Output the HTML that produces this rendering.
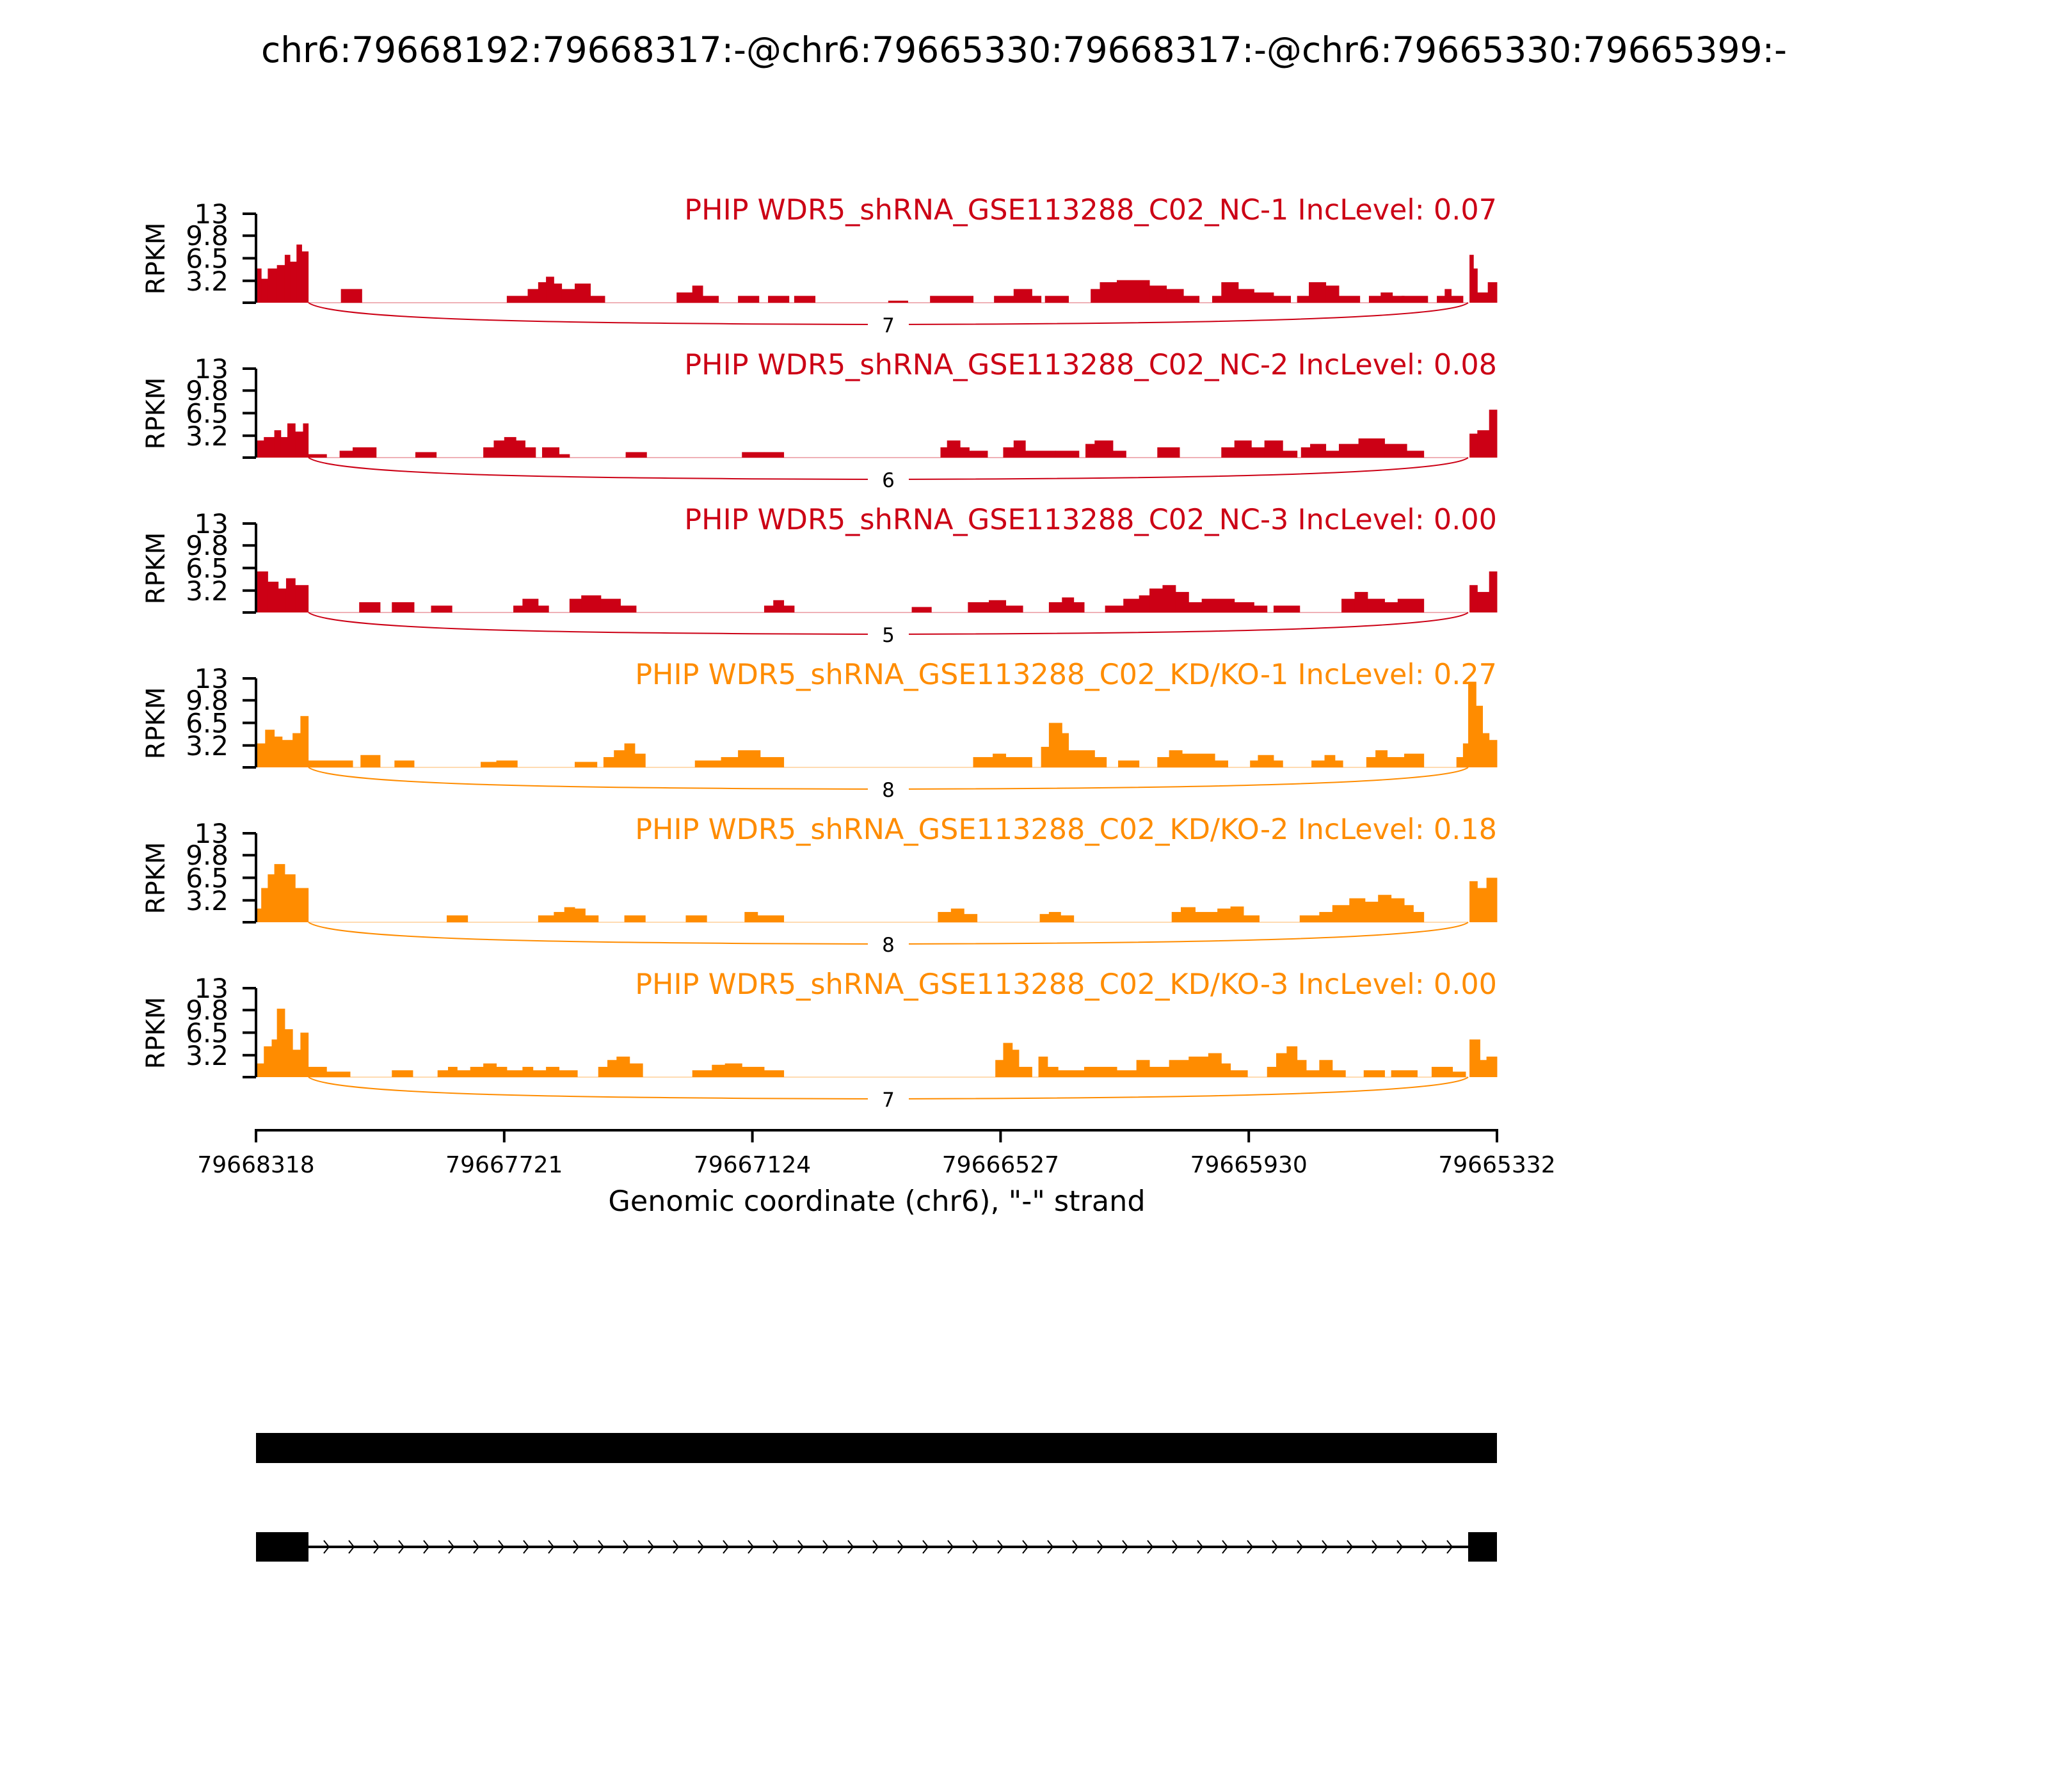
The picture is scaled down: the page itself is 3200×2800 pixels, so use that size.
<!DOCTYPE html>
<html><head><meta charset="utf-8"><style>
html,body{margin:0;padding:0;background:#fff;}
svg{display:block;font-family:"DejaVu Sans","Liberation Sans",sans-serif;}
</style></head><body>
<svg id="s" width="3200" height="2800" xmlns="http://www.w3.org/2000/svg">
<text x="1600" y="97" font-size="55" text-anchor="middle">chr6:79668192:79668317:-@chr6:79665330:79668317:-@chr6:79665330:79665399:-</text>
</svg>
<script>
const S=document.getElementById('s');const NS='http://www.w3.org/2000/svg';
function el(t,a,txt){const e=document.createElementNS(NS,t);for(const k in a)e.setAttribute(k,a[k]);if(txt!==undefined)e.textContent=txt;S.appendChild(e);return e;}
const X=d=>400+(d-196)*2.041;
const R='#CC0015',O='#FF8C00';
const panels=[
{c:R,lab:'PHIP WDR5_shRNA_GSE113288_C02_NC-1 IncLevel: 0.07',j:'7',d:[[197,200,5],[200,205,3.5],[205,212,5],[212,218,5.5],[218,222,7],[222,227,6],[227,231,8.5],[231,236,7.5],[261,277,2],[388,404,1],[404,412,2],[412,418,3],[418,424,3.8],[424,430,2.8],[430,440,2],[440,452,2.8],[452,463,1],[518,530,1.5],[530,538,2.5],[538,550,1],[565,581,1],[588,604,1],[608,624,1],[680,695,0.3],[712,745,1],[761,776,1],[776,790,2],[790,797,1],[800,818,1],[835,842,2],[842,855,3],[855,880,3.3],[880,893,2.5],[893,906,2],[906,918,1],[928,935,1],[935,948,3],[948,960,2],[960,975,1.5],[975,988,1],[993,1002,1],[1002,1015,3],[1015,1025,2.5],[1025,1041,1],[1048,1057,1],[1057,1066,1.5],[1066,1075,1],[1073,1093,1],[1100,1106,1],[1106,1111,2],[1111,1120,1],[1125,1128,7],[1128,1131,5],[1131,1139,1.5],[1139,1146,3]]},
{c:R,lab:'PHIP WDR5_shRNA_GSE113288_C02_NC-2 IncLevel: 0.08',j:'6',d:[[197,202,2.5],[202,210,3],[210,215,4],[215,220,3],[220,226,5],[226,232,3.8],[232,236,5],[236,250,0.5],[260,270,1],[270,288,1.5],[318,334,0.8],[370,378,1.5],[378,386,2.5],[386,395,3],[395,402,2.5],[402,410,1.5],[415,428,1.5],[428,436,0.5],[479,495,0.8],[568,585,0.8],[585,600,0.8],[720,725,1.5],[725,735,2.5],[735,742,1.5],[742,756,1],[768,776,1.5],[776,785,2.5],[785,808,1],[808,826,1],[831,838,2],[838,852,2.5],[852,862,1],[886,903,1.5],[935,945,1.5],[945,958,2.5],[958,968,1.5],[968,982,2.5],[982,993,1],[996,1003,1.5],[1003,1015,2],[1015,1025,1],[1025,1040,2],[1040,1060,2.8],[1060,1077,2],[1077,1090,1],[1125,1131,3.5],[1131,1140,4],[1140,1146,7]]},
{c:R,lab:'PHIP WDR5_shRNA_GSE113288_C02_NC-3 IncLevel: 0.00',j:'5',d:[[197,205,6],[205,213,4.5],[213,219,3.5],[219,226,5],[226,236,4],[275,291,1.5],[300,317,1.5],[330,346,1],[393,400,1],[400,412,2],[412,420,1],[436,445,2],[445,460,2.5],[460,475,2],[475,487,1],[585,592,1],[592,600,1.8],[600,608,1],[698,713,0.8],[741,757,1.5],[757,770,1.8],[770,783,1],[803,813,1.5],[813,822,2.2],[822,830,1.5],[846,860,1],[860,872,2],[872,880,2.5],[880,890,3.5],[890,900,4],[900,910,3],[910,920,1.5],[920,930,2],[930,945,2],[945,960,1.5],[960,970,1],[975,995,1],[1027,1037,2],[1037,1047,3],[1047,1060,2],[1060,1070,1.5],[1070,1090,2],[1125,1131,4],[1131,1140,3],[1140,1146,6]]},
{c:O,lab:'PHIP WDR5_shRNA_GSE113288_C02_KD/KO-1 IncLevel: 0.27',j:'8',d:[[197,203,3.5],[203,210,5.5],[210,216,4.5],[216,224,4],[224,230,5],[230,236,7.5],[236,270,1],[276,291,1.8],[302,317,1],[368,380,0.8],[380,396,1],[440,457,0.8],[462,470,1.5],[470,478,2.5],[478,486,3.5],[486,494,2],[532,552,1],[552,565,1.5],[565,582,2.5],[582,600,1.5],[745,760,1.5],[760,770,2],[770,790,1.5],[797,803,3],[803,813,6.5],[813,818,5],[818,825,2.5],[825,838,2.5],[838,847,1.5],[856,872,1],[886,895,1.5],[895,905,2.5],[905,918,2],[918,930,2],[930,940,1],[957,963,1],[963,975,1.8],[975,982,1],[1004,1014,1],[1014,1022,1.8],[1022,1028,1],[1046,1053,1.5],[1053,1062,2.5],[1062,1075,1.5],[1075,1090,2],[1115,1120,1.5],[1120,1124,3.5],[1124,1130,12.5],[1130,1135,9],[1135,1140,5],[1140,1146,4]]},
{c:O,lab:'PHIP WDR5_shRNA_GSE113288_C02_KD/KO-2 IncLevel: 0.18',j:'8',d:[[197,200,2],[200,205,5],[205,210,7],[210,218,8.5],[218,226,7],[226,236,5],[342,358,1],[412,424,1],[424,432,1.5],[432,440,2.2],[440,448,2],[448,458,1],[478,494,1],[525,541,1],[570,580,1.5],[580,600,1],[718,728,1.5],[728,738,2],[738,748,1.2],[796,803,1.2],[803,812,1.5],[812,822,1],[897,904,1.5],[904,915,2.2],[915,932,1.5],[932,942,2],[942,952,2.3],[952,964,1],[995,1010,1],[1010,1020,1.5],[1020,1033,2.5],[1033,1045,3.5],[1045,1055,3],[1055,1065,4],[1065,1075,3.5],[1075,1082,2.5],[1082,1090,1.5],[1125,1131,6],[1131,1138,5],[1138,1146,6.5]]},
{c:O,lab:'PHIP WDR5_shRNA_GSE113288_C02_KD/KO-3 IncLevel: 0.00',j:'7',d:[[197,202,2],[202,208,4.5],[208,212,5.5],[212,218,10],[218,224,7],[224,230,4],[230,236,6.5],[236,250,1.5],[250,268,0.8],[300,316,1],[335,343,1],[343,350,1.5],[350,360,1],[360,370,1.5],[370,380,2],[380,388,1.5],[388,400,1],[400,408,1.5],[408,418,1],[418,428,1.5],[428,442,1],[458,465,1.5],[465,472,2.5],[472,482,3],[482,492,2],[530,545,1],[545,555,1.8],[555,568,2],[568,585,1.5],[585,600,1],[762,768,2.5],[768,775,5],[775,780,4],[780,790,1.5],[795,802,3],[802,810,1.5],[810,830,1],[830,855,1.5],[855,870,1],[870,880,2.5],[880,895,1.5],[895,910,2.5],[910,925,3],[925,935,3.5],[935,942,2],[942,955,1],[970,977,1.5],[977,985,3.5],[985,993,4.5],[993,1000,2.5],[1000,1010,1],[1010,1020,2.5],[1020,1030,1],[1044,1060,1],[1065,1085,1],[1096,1112,1.5],[1112,1122,0.8],[1125,1133,5.5],[1133,1138,2.5],[1138,1146,3]]}
];
panels.forEach((p,i)=>{
 const b=473+i*242, t=b-139, k=139/13;
 el('line',{x1:482,y1:b,x2:2294,y2:b,stroke:p.c,'stroke-width':2,opacity:0.3});
 p.d.forEach(s=>{const x0=X(s[0]),x1=X(s[1]),h=s[2]*k;el('rect',{x:x0,y:b-h,width:x1-x0+0.5,height:h,fill:p.c});});
 el('path',{d:`M482,${b} C520,${b+28} 900,${b+33} 1388,${b+34} C1860,${b+33} 2262,${b+26} 2294,${b}`,fill:'none',stroke:p.c,'stroke-width':2});
 el('rect',{x:1356,y:b+18,width:64,height:34,fill:'#fff'});
 el('text',{x:1388,y:b+46,'font-size':31,'text-anchor':'middle'},p.j);
 el('line',{x1:400,y1:t,x2:400,y2:b,stroke:'#000','stroke-width':4});
 [[0,''],[3.2,'3.2'],[6.5,'6.5'],[9.8,'9.8'],[13,'13']].forEach(v=>{const y=b-v[0]*k;el('line',{x1:379,y1:y,x2:400,y2:y,stroke:'#000','stroke-width':4});if(v[1])el('text',{x:357,y:y+15,'font-size':42,'text-anchor':'end'},v[1]);});
 el('text',{x:0,y:0,'font-size':40,'text-anchor':'middle',transform:`translate(257,${t+70}) rotate(-90)`},'RPKM');
 el('text',{x:2339,y:b-130,'font-size':44.5,'text-anchor':'end',fill:p.c},p.lab);
});
el('line',{x1:398,y1:1766,x2:2341,y2:1766,stroke:'#000','stroke-width':4});
['79668318','79667721','79667124','79666527','79665930','79665332'].forEach((l,i)=>{const x=400+i*387.8;el('line',{x1:x,y1:1764,x2:x,y2:1785,stroke:'#000','stroke-width':4});el('text',{x:x,y:1832,'font-size':36,'text-anchor':'middle'},l);});
el('text',{x:1370,y:1892,'font-size':44.5,'text-anchor':'middle'},'Genomic coordinate (chr6), "-" strand');
el('rect',{x:400,y:2239,width:1939,height:47,fill:'#000'});
el('line',{x1:482,y1:2417,x2:2294,y2:2417,stroke:'#000','stroke-width':4});
for(let x=510;x<2290;x+=39){el('path',{d:`M${x-4},${2407} L${x+4},${2417} L${x-4},${2427}`,fill:'none',stroke:'#000','stroke-width':2});}
el('rect',{x:400,y:2394,width:82,height:46,fill:'#000'});
el('rect',{x:2294,y:2394,width:45,height:46,fill:'#000'});
</script>
</body></html>
